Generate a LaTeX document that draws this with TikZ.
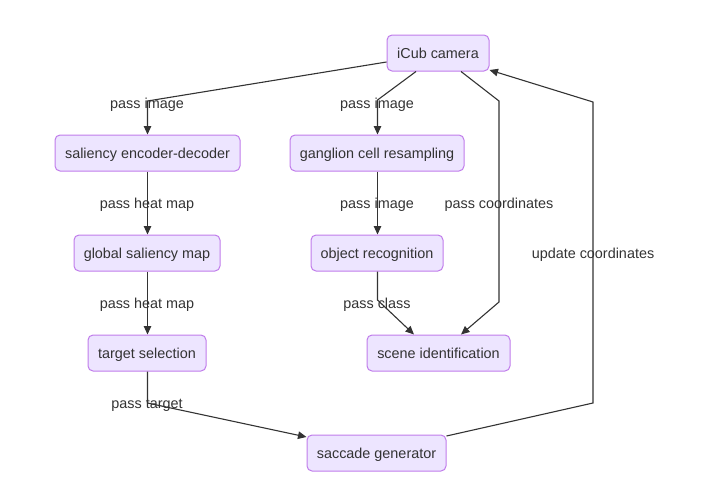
\documentclass[tikz,border=0pt]{standalone}
\usepackage{fontspec}
\setmainfont{Liberation Sans}
\usetikzlibrary{arrows.meta}
\definecolor{nfill}{HTML}{EDE5FF}
\definecolor{nborder}{HTML}{C07CEB}
\definecolor{txt}{HTML}{333333}
\begin{document}
\begin{tikzpicture}[x=1pt,y=-1pt,
  box/.style={draw=nborder,fill=nfill,rounded corners=5pt,line width=1pt,text=txt,
    minimum height=36pt,inner sep=0pt,text height=12pt,text depth=1.7pt,
    font=\fontsize{14.4}{16}\selectfont},
  lbl/.style={text=txt,font=\fontsize{14.4}{16}\selectfont,inner sep=0pt,
    text height=12pt,text depth=1.7pt},
  conn/.style={draw=txt,line width=1.1pt,-{Triangle[length=8.5pt,width=7.5pt]}}]
\useasboundingbox (0,0) rectangle (701,490);
\node[box,minimum width=102pt] (cam) at (438,53) {iCub camera};
\node[box,minimum width=185pt] (sal) at (147.5,153) {saliency encoder-decoder};
\node[box,minimum width=174pt] (gan) at (377,153) {ganglion cell resampling};
\node[box,minimum width=146pt] (glo) at (147,253) {global saliency map};
\node[box,minimum width=132pt] (obj) at (377,253) {object recognition};
\node[box,minimum width=118pt] (tar) at (147,353) {target selection};
\node[box,minimum width=143pt] (sce) at (438.5,353) {scene identification};
\node[box,minimum width=139pt] (sac) at (376.5,453) {saccade generator};
% connectors
\coordinate (c1) at (147.5,101);
\draw[conn] (cam.west |- 0,62) -- (c1) -- (sal.north -| c1);
\coordinate (c2) at (377.5,100);
\draw[conn] (cam.south -| 416,0) -- (c2) -- (gan.north -| c2);
\coordinate (c3a) at (499,101);
\coordinate (c3b) at (499,302);
\draw[conn] (cam.south -| 461,0) -- (c3a) -- (c3b) -- (sce.north -| 461,0);
\draw[conn] (gan.south -| c2) -- (obj.north -| c2);
\coordinate (c4) at (377.5,300);
\draw[conn] (obj.south -| c4) -- (c4) -- (sce.north -| 414,0);
\draw[conn] (sal.south -| c1) -- (glo.north -| c1);
\draw[conn] (glo.south -| c1) -- (tar.north -| c1);
\coordinate (c5) at (147.5,403);
\draw[conn] (tar.south -| c5) -- (c5) -- (sac.west |- 0,437);
\coordinate (c6a) at (593,403);
\coordinate (c6b) at (593,102);
\draw[conn] (sac.east |- 0,436) -- (c6a) -- (c6b) -- (cam.east |- 0,70);
% labels
\node[lbl] (l1) at (147,103) {pass image};
\node[lbl] (l2) at (377,103) {pass image};
\node[lbl] (l3) at (147,203) {pass heat map};
\node[lbl] (l4) at (377,203) {pass image};
\node[lbl] (l5) at (499,203) {pass coordinates};
\node[lbl] (l6) at (147,303) {pass heat map};
\node[lbl] (l7) at (377,303) {pass class};
\node[lbl] (l8) at (147,403) {pass target};
\node[lbl] (l9) at (593,253) {update coordinates};
\end{tikzpicture}
\end{document}
